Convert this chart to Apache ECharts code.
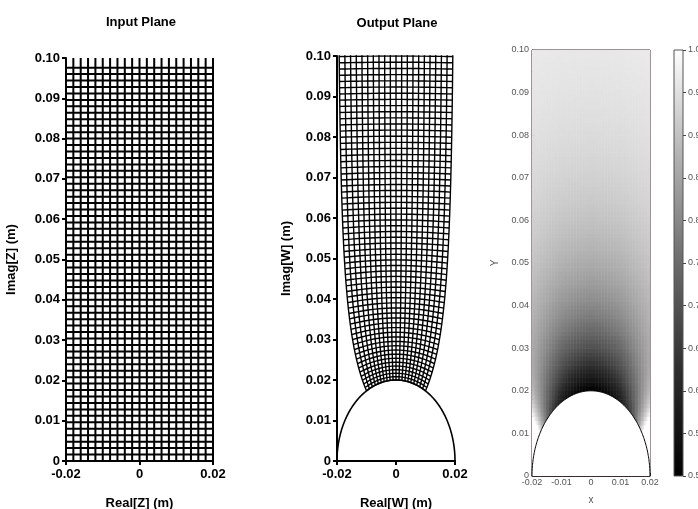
<!DOCTYPE html>
<html><head><meta charset="utf-8">
<script src="https://cdn.jsdelivr.net/npm/echarts@6/dist/echarts.min.js"></script>
<style>html,body{margin:0;padding:0;background:#fff}#c{width:698px;height:509px}</style>
</head><body><div id="c"></div>
<script>
// ---- values ----
const R = 0.02;                       // radius of the semicircular obstacle
const inputX = [-0.02,-0.018,-0.016,-0.014,-0.012,-0.01,-0.008,-0.006,-0.004,-0.002,0,
                0.002,0.004,0.006,0.008,0.01,0.012,0.014,0.016,0.018,0.02];
const inputY = [0,0.0016,0.0032,0.0048,0.0064,0.008,0.0096,0.0112,0.0128,0.0144,0.016,0.0176,
                0.0192,0.0208,0.0224,0.024,0.0256,0.0272,0.0288,0.0304,0.032,0.0336,0.0352,0.0368,
                0.0384,0.04,0.0416,0.0432,0.0448,0.0464,0.048,0.0496,0.0512,0.0528,0.0544,0.056,
                0.0576,0.0592,0.0608,0.0624,0.064,0.0656,0.0672,0.0688,0.0704,0.072,0.0736,0.0752,
                0.0768,0.0784,0.08,0.0816,0.0832,0.0848,0.0864,0.088,0.0896,0.0912,0.0928,0.0944,
                0.096,0.0976];
const inputYTop = 0.1;                // vertical grid lines reach the top of the axis
const colorRange = [0.5, 1.0];        // colour bar limits
const grayStops = ['#000000', '#2d2d2d', '#6b6b6b', '#b2b2b2', '#ffffff']; // colour map
const fieldStep = [0.0005, 0.001];    // heat-map cell size (x, y)

// ---- conformal map Z -> W (inverse Joukowski) ----
function csqrt(a, b) {
  const r = Math.hypot(a, b);
  let re = Math.sqrt(Math.max(0, (r + a) / 2)), im = Math.sqrt(Math.max(0, (r - a) / 2));
  if (b < 0) im = -im;
  return [re, im];
}
function mapZtoW(x, y) {
  let [sr, si] = csqrt(x * x - y * y - 4 * R * R, 2 * x * y);
  if (si < 0 || (si === 0 && sr * x < 0)) { sr = -sr; si = -si; }
  return [(x + sr) / 2, (y + si) / 2];
}
function speedRatio(x, y) {          // |dW/dZ|
  const ar = x * x - y * y, ai = 2 * x * y;
  return Math.hypot(ar, ai) / Math.hypot(ar - R * R, ai);
}

const inVert = inputX.map(x => ({coords: [[x, 0], [x, inputYTop]]}));
const inHorz = inputY.map(y => ({coords: [[inputX[0], y], [inputX[inputX.length - 1], y]]}));
const outVert = inputX.map(x => ({coords: inputY.concat([inputYTop]).map(y => mapZtoW(x, y))}));
const outHorz = inputY.map(y => ({coords: inputX.map(x => mapZtoW(x, y))}));

const field = [];
for (let i = 0; i < Math.round(0.04 / fieldStep[0]); i++) {
  const x = -0.02 + fieldStep[0] * (i + 0.5);
  for (let j = 0; j < Math.round(0.1 / fieldStep[1]); j++) {
    const y = fieldStep[1] * (j + 0.5);
    if (Math.hypot(x, y) < R - 0.0015) continue;
    const v = Math.min(colorRange[1], Math.max(colorRange[0], speedRatio(x, y)));
    field.push([x, y, v]);
  }
}

const FONT = '"Liberation Sans", Arial, sans-serif';
const fmt2 = v => (v === 0 ? '0' : v.toFixed(2));
function boldX(grid, name) {
  return {gridIndex: grid, type: 'value', min: -0.02, max: 0.02, interval: 0.02,
    axisLine: {onZero: false, lineStyle: {color: '#000', width: 2}},
    axisTick: {length: 4, lineStyle: {color: '#000', width: 2}},
    axisLabel: {color: '#000', fontWeight: 'bold', fontSize: 13, fontFamily: FONT, margin: 7, formatter: fmt2},
    splitLine: {show: false},
    name: name, nameLocation: 'middle', nameGap: 36,
    nameTextStyle: {color: '#000', fontWeight: 'bold', fontSize: 13, fontFamily: FONT}};
}
function boldY(grid, name, gap) {
  return {gridIndex: grid, type: 'value', min: 0, max: 0.1, interval: 0.01,
    axisLine: {onZero: false, lineStyle: {color: '#000', width: 2}},
    axisTick: {length: 4, lineStyle: {color: '#000', width: 2}},
    axisLabel: {color: '#000', fontWeight: 'bold', fontSize: 13, fontFamily: FONT, margin: 6, formatter: fmt2},
    splitLine: {show: false},
    name: name, nameLocation: 'middle', nameGap: gap, nameRotate: 90,
    nameTextStyle: {color: '#000', fontWeight: 'bold', fontSize: 13, fontFamily: FONT}};
}
const thinLabel = {color: '#555', fontSize: 9, fontFamily: FONT};

function semicircle(params, api, fill, lw) {
  const cx = api.value(0), cy = api.value(1), r = api.value(2);
  const pts = [];
  for (let i = 0; i <= 180; i++) {
    const t = Math.PI * i / 180;
    pts.push(api.coord([cx + r * Math.cos(t), cy + r * Math.sin(t)]));
  }
  return {type: 'polyline', shape: {points: pts}, style: {fill: fill, stroke: '#000', lineWidth: lw}};
}

const chart = echarts.init(document.getElementById('c'), null, {renderer: 'canvas'});
chart.setOption({
  animation: false,
  backgroundColor: '#fff',
  grid: [
    {left: 66, top: 58, width: 147, height: 403, outerBoundsMode: 'none'},
    {left: 337, top: 56, width: 118, height: 405, outerBoundsMode: 'none'},
    {left: 532, top: 50, width: 118, height: 426, show: true, borderColor: '#3a2c2c', borderWidth: 1, outerBoundsMode: 'none'},
    {left: 674, top: 50, width: 9, height: 426, outerBoundsMode: 'none'}
  ],
  xAxis: [
    boldX(0, 'Real[Z] (m)'),
    boldX(1, 'Real[W] (m)'),
    {gridIndex: 2, type: 'value', min: -0.02, max: 0.02, interval: 0.01,
      axisLine: {onZero: false, lineStyle: {color: '#3a2c2c', width: 1}},
      axisTick: {inside: true, length: 3, lineStyle: {color: '#3a2c2c'}},
      axisLabel: Object.assign({margin: 2, formatter: v => (v === 0 ? '0' : String(+v.toFixed(2)))}, thinLabel),
      splitLine: {show: false},
      name: 'x', nameLocation: 'middle', nameGap: 19, nameTextStyle: {color: '#555', fontSize: 10, fontFamily: FONT}},
    {gridIndex: 3, type: 'value', min: 0, max: 1, show: false}
  ],
  yAxis: [
    boldY(0, 'Imag[Z] (m)', 48),
    boldY(1, 'Imag[W] (m)', 44),
    {gridIndex: 2, type: 'value', min: 0, max: 0.1, interval: 0.01,
      axisLine: {onZero: false, lineStyle: {color: '#3a2c2c', width: 1}},
      axisTick: {inside: true, length: 3, lineStyle: {color: '#3a2c2c'}},
      axisLabel: Object.assign({margin: 3, formatter: fmt2}, thinLabel),
      splitLine: {show: false},
      name: 'Y', nameLocation: 'middle', nameGap: 32, nameRotate: 90, nameTextStyle: {color: '#555', fontSize: 10, fontFamily: FONT}},
    {gridIndex: 3, type: 'value', min: colorRange[0], max: colorRange[1], interval: 0.05, position: 'right',
      axisLine: {onZero: false, show: false},
      axisTick: {length: 3, lineStyle: {color: '#444'}},
      axisLabel: Object.assign({margin: 5, formatter: v => v.toFixed(2)}, thinLabel),
      splitLine: {show: false}}
  ],
  visualMap: {show: false, seriesIndex: 4, dimension: 2, min: colorRange[0], max: colorRange[1],
    inRange: {color: grayStops}},
  graphic: [
    {type: 'text', x: 141, y: 22, style: {text: 'Input Plane', font: 'bold 13px ' + FONT, fill: '#000', align: 'center', verticalAlign: 'middle'}},
    {type: 'text', x: 397, y: 23, style: {text: 'Output Plane', font: 'bold 13px ' + FONT, fill: '#000', align: 'center', verticalAlign: 'middle'}}
  ],
  series: [
    {type: 'lines', coordinateSystem: 'cartesian2d', xAxisIndex: 0, yAxisIndex: 0, polyline: true, silent: true,
      lineStyle: {color: '#000', width: 2, opacity: 1}, data: inVert},
    {type: 'lines', coordinateSystem: 'cartesian2d', xAxisIndex: 0, yAxisIndex: 0, polyline: true, silent: true,
      lineStyle: {color: '#000', width: 2, opacity: 1}, data: inHorz},
    {type: 'lines', coordinateSystem: 'cartesian2d', xAxisIndex: 1, yAxisIndex: 1, polyline: true, silent: true, clip: true,
      lineStyle: {color: '#000', width: 1.4, opacity: 1}, data: outVert},
    {type: 'lines', coordinateSystem: 'cartesian2d', xAxisIndex: 1, yAxisIndex: 1, polyline: true, silent: true, clip: true,
      lineStyle: {color: '#000', width: 1.4, opacity: 1}, data: outHorz},
    {type: 'custom', xAxisIndex: 2, yAxisIndex: 2, z: 1, clip: true, silent: true,
      progressive: 0, progressiveThreshold: 1e9,
      renderItem: function (params, api) {
        const x = api.value(0), y = api.value(1);
        const p0 = api.coord([x - fieldStep[0] / 2, y + fieldStep[1] / 2]);
        const p1 = api.coord([x + fieldStep[0] / 2, y - fieldStep[1] / 2]);
        return {type: 'rect', shape: {x: p0[0], y: p0[1], width: p1[0] - p0[0] + 0.5, height: p1[1] - p0[1] + 0.5},
          style: {fill: api.visual('color')}};
      },
      data: field},
    {type: 'custom', xAxisIndex: 2, yAxisIndex: 2, z: 3, silent: true,
      renderItem: (p, api) => semicircle(p, api, '#fff', 1), data: [[0, 0, R]]},
    {type: 'custom', xAxisIndex: 1, yAxisIndex: 1, z: 3, silent: true,
      renderItem: (p, api) => semicircle(p, api, null, 1.6), data: [[0, 0, R]]},
    {type: 'custom', xAxisIndex: 3, yAxisIndex: 3, z: 3, silent: true,
      renderItem: function (params, api) {
        const a = api.coord([0, api.value(1)]), b = api.coord([1, api.value(0)]);
        const n = grayStops.length - 1;
        return {type: 'rect', shape: {x: a[0], y: a[1], width: b[0] - a[0], height: b[1] - a[1]},
          style: {stroke: '#555', lineWidth: 1,
            fill: new echarts.graphic.LinearGradient(0, 0, 0, 1,
              grayStops.slice().reverse().map((c, i) => ({offset: i / n, color: c})))}};
      },
      data: [[colorRange[0], colorRange[1]]]}
  ]
});
</script></body></html>
